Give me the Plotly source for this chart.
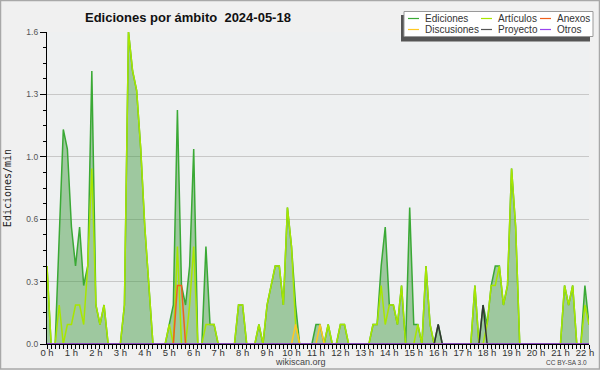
import plotly.graph_objects as go

TITLE = "Ediciones por ámbito  2024-05-18"
STEP_MIN = 10  # one value every 10 minutes (edits per minute)

ediciones = [
    0.4, 0, 0, 0.6, 1.1, 1.0, 0.6, 0.4, 0.6, 0.3,
    0.4, 1.4, 0.2, 0.1, 0.2, 0, 0, 0, 0, 0.2,
    1.6, 1.4, 1.3, 1.0, 0.6, 0.3, 0, 0, 0, 0,
    0.1, 0.2, 1.2, 0.3, 0.2, 0.4, 1.0, 0, 0, 0.5,
    0.1, 0.1, 0, 0, 0, 0, 0, 0.2, 0.2, 0,
    0, 0, 0.1, 0, 0.2, 0.3, 0.4, 0.4, 0.2, 0.7,
    0.5, 0.2, 0, 0, 0, 0, 0.1, 0.1, 0, 0.1,
    0, 0, 0.1, 0.1, 0, 0, 0, 0, 0, 0,
    0.1, 0.1, 0.4, 0.6, 0.2, 0.2, 0.1, 0.3, 0, 0.7,
    0.1, 0.1, 0, 0.4, 0.1, 0, 0.1, 0, 0, 0,
    0, 0, 0, 0, 0, 0.3, 0, 0.2, 0.1, 0.3,
    0.4, 0.4, 0.2, 0.3, 0.9, 0.6, 0, 0, 0, 0,
    0, 0, 0, 0, 0, 0, 0, 0.3, 0.2, 0.3,
    0, 0, 0.3, 0.1,
]

articulos = [
    0.4, 0, 0, 0.2, 0, 0.1, 0.1, 0.2, 0.2, 0.1,
    0.4, 0.9, 0.2, 0.1, 0.2, 0, 0, 0, 0, 0.2,
    1.6, 1.4, 1.3, 1.0, 0.6, 0.3, 0, 0, 0, 0,
    0.1, 0, 0.5, 0, 0, 0.2, 0.5, 0, 0, 0.1,
    0.1, 0.1, 0, 0, 0, 0, 0, 0.2, 0.2, 0,
    0, 0, 0.1, 0, 0.2, 0.3, 0.4, 0.4, 0.2, 0.7,
    0.5, 0.1, 0, 0, 0, 0, 0, 0, 0, 0.1,
    0, 0, 0.1, 0.1, 0, 0, 0, 0, 0, 0,
    0.1, 0.1, 0.3, 0.1, 0.2, 0.2, 0.1, 0.3, 0, 0,
    0, 0.1, 0, 0.4, 0.1, 0, 0, 0, 0, 0,
    0, 0, 0, 0, 0, 0.3, 0, 0, 0.1, 0.3,
    0.3, 0.4, 0.2, 0.3, 0.9, 0.6, 0, 0, 0, 0,
    0, 0, 0, 0, 0, 0, 0, 0.3, 0.2, 0.3,
    0, 0, 0.2, 0.1,
]

anexos = [
    0, 0, 0, 0, 0, 0, 0, 0, 0, 0,
    0, 0, 0, 0, 0, 0, 0, 0, 0, 0,
    0, 0, 0, 0, 0, 0, 0, 0, 0, 0,
    0, 0, 0.3, 0.3, 0, 0, 0, 0, 0, 0,
    0, 0, 0, 0, 0, 0, 0, 0, 0, 0,
    0, 0, 0, 0, 0, 0, 0, 0, 0, 0,
    0, 0, 0, 0, 0, 0, 0, 0, 0, 0,
    0, 0, 0, 0, 0, 0, 0, 0, 0, 0,
    0, 0, 0, 0, 0, 0, 0, 0, 0, 0,
    0, 0, 0, 0, 0, 0, 0, 0, 0, 0,
    0, 0, 0, 0, 0, 0, 0, 0, 0, 0,
    0, 0, 0, 0, 0, 0, 0, 0, 0, 0,
    0, 0, 0, 0, 0, 0, 0, 0, 0, 0,
    0, 0, 0, 0,
]

discusiones = [
    0, 0, 0, 0, 0, 0, 0, 0, 0, 0,
    0, 0, 0, 0, 0, 0, 0, 0, 0, 0,
    0, 0, 0, 0, 0, 0, 0, 0, 0, 0,
    0, 0, 0, 0, 0, 0, 0, 0, 0, 0,
    0, 0, 0, 0, 0, 0, 0, 0, 0, 0,
    0, 0, 0, 0, 0, 0, 0, 0, 0, 0,
    0, 0.1, 0, 0, 0, 0, 0, 0.1, 0, 0,
    0, 0, 0, 0, 0, 0, 0, 0, 0, 0,
    0, 0, 0, 0, 0, 0, 0, 0, 0, 0,
    0, 0, 0, 0, 0, 0, 0, 0, 0, 0,
    0, 0, 0, 0, 0, 0, 0, 0, 0, 0,
    0, 0, 0, 0, 0, 0, 0, 0, 0, 0,
    0, 0, 0, 0, 0, 0, 0, 0, 0, 0,
    0, 0, 0, 0,
]

proyecto = [
    0, 0, 0, 0, 0, 0, 0, 0, 0, 0,
    0, 0, 0, 0, 0, 0, 0, 0, 0, 0,
    0, 0, 0, 0, 0, 0, 0, 0, 0, 0,
    0, 0, 0, 0, 0, 0, 0, 0, 0, 0,
    0, 0, 0, 0, 0, 0, 0, 0, 0, 0,
    0, 0, 0, 0, 0, 0, 0, 0, 0, 0,
    0, 0, 0, 0, 0, 0, 0, 0, 0, 0,
    0, 0, 0, 0, 0, 0, 0, 0, 0, 0,
    0, 0, 0, 0, 0, 0, 0, 0, 0, 0,
    0, 0, 0, 0, 0, 0, 0.1, 0, 0, 0,
    0, 0, 0, 0, 0, 0, 0, 0.2, 0, 0,
    0, 0, 0, 0, 0, 0, 0, 0, 0, 0,
    0, 0, 0, 0, 0, 0, 0, 0, 0, 0,
    0, 0, 0, 0,
]

otros = [
    0, 0, 0, 0, 0, 0, 0, 0, 0, 0,
    0, 0, 0, 0, 0, 0, 0, 0, 0, 0,
    0, 0, 0, 0, 0, 0, 0, 0, 0, 0,
    0, 0, 0, 0, 0, 0, 0, 0, 0, 0,
    0, 0, 0, 0, 0, 0, 0, 0, 0, 0,
    0, 0, 0, 0, 0, 0, 0, 0, 0, 0,
    0, 0, 0, 0, 0, 0, 0, 0, 0, 0,
    0, 0, 0, 0, 0, 0, 0, 0, 0, 0,
    0, 0, 0, 0, 0, 0, 0, 0, 0, 0,
    0, 0, 0, 0, 0, 0, 0, 0, 0, 0,
    0, 0, 0, 0, 0, 0, 0, 0, 0, 0,
    0, 0, 0, 0, 0, 0, 0, 0, 0, 0,
    0, 0, 0, 0, 0, 0, 0, 0, 0, 0,
    0, 0, 0, 0,
]

hour_ticks = list(range(23))
hour_labels = ["0 h", "1 h", "2 h", "3 h", "4 h", "5 h", "6 h", "7 h", "8 h", "9 h",
               "10 h", "11 h", "12 h", "13 h", "14 h", "15 h", "16 h", "17 h", "18 h",
               "19 h", "20 h", "21 h", "22 h"]
y_ticks = [0, 0.32, 0.64, 0.96, 1.28, 1.6]
y_labels = ["0.0", "0.3", "0.6", "1.0", "1.3", "1.6"]

series = [
    ("Artículos", articulos, "#a8e600"),
    ("Anexos", anexos, "#f0601c"),
    ("Discusiones", discusiones, "#ffc823"),
    ("Proyecto", proyecto, "#333333"),
    ("Otros", otros, "#9944ee"),
]
legend_items = [
    ("Ediciones", "#3aa935"), ("Artículos", "#a8e600"), ("Anexos", "#f0601c"),
    ("Discusiones", "#ffc823"), ("Proyecto", "#555555"), ("Otros", "#9944ee"),
]

hours = [i * STEP_MIN / 60 for i in range(len(ediciones))]

W, H = 600, 370
L, R, T, B = 47, 11, 32, 26
PW, PH = W - L - R, H - T - B


def px(xp):
    return (xp - L) / PW


def py(yp):
    return (H - B - yp) / PH


fig = go.Figure()
fig.add_trace(go.Scatter(
    x=hours, y=ediciones, mode="lines", name="Ediciones",
    line=dict(color="#3aa935", width=1.5),
    fill="tozeroy", fillcolor="rgba(60,150,60,0.45)", showlegend=False))
for name, vals, color in series:
    fig.add_trace(go.Scatter(
        x=hours, y=vals, mode="lines", name=name,
        line=dict(color=color, width=1.5), showlegend=False))

shapes = []
annotations = []

# outer frame
shapes.append(dict(type="rect", xref="paper", yref="paper",
                   x0=px(0.5), x1=px(599.5), y0=py(0.5), y1=py(369),
                   line=dict(color="#a8a8a8", width=1.5), fillcolor="rgba(0,0,0,0)", layer="above"))

# legend box (shadow + box)
shapes.append(dict(type="rect", xref="paper", yref="paper",
                   x0=px(401), x1=px(590), y0=py(15), y1=py(41.5),
                   line=dict(width=0), fillcolor="#555555", layer="above"))
shapes.append(dict(type="rect", xref="paper", yref="paper",
                   x0=px(404), x1=px(593), y0=py(11.5), y1=py(36.5),
                   line=dict(color="#999999", width=1), fillcolor="#ffffff", layer="above"))

col_line = [(408, 419), (481, 492), (540, 551)]
col_text = [423, 496, 555]
row_y = [18.5, 29.5]
for i, (label, color) in enumerate(legend_items):
    r, c = divmod(i, 3)
    shapes.append(dict(type="line", xref="paper", yref="paper",
                       x0=px(col_line[c][0]), x1=px(col_line[c][1]),
                       y0=py(row_y[r]), y1=py(row_y[r]),
                       line=dict(color=color, width=1.2), layer="above"))
    annotations.append(dict(text=label, xref="paper", yref="paper",
                            x=px(col_text[c]), y=py(row_y[r]),
                            xanchor="left", yanchor="middle", showarrow=False,
                            font=dict(family="Liberation Sans", size=10, color="#333333")))

annotations.append(dict(text="wikiscan.org", xref="paper", yref="paper",
                        x=px(300.5), y=py(362), xanchor="center", yanchor="middle",
                        showarrow=False,
                        font=dict(family="Liberation Sans", size=9, color="#444444")))
annotations.append(dict(text="CC BY-SA 3.0", xref="paper", yref="paper",
                        x=px(589), y=py(362.5), xanchor="right", yanchor="middle",
                        showarrow=False,
                        font=dict(family="Liberation Sans", size=6.5, color="#444444")))

fig.update_layout(
    width=W, height=H,
    template="none",
    margin=dict(l=L, r=R, t=T, b=B, pad=0, autoexpand=False),
    paper_bgcolor="#f0f0f0",
    plot_bgcolor="#eef0f1",
    title=dict(text="<b>" + TITLE + "</b>", x=85 / W, xref="container", xanchor="left",
               y=1 - 17 / H, yref="container", yanchor="middle",
               font=dict(family="Liberation Sans", size=13, color="#111111")),
    xaxis=dict(range=[0, hours[-1]], tickmode="array", tickvals=hour_ticks, ticktext=hour_labels,
               automargin=False,
               ticks="outside", ticklen=4, tickcolor="#000000", tickwidth=1,
               showline=True, linecolor="#000000", linewidth=1.2,
               showgrid=False, zeroline=False,
               tickfont=dict(family="Liberation Sans", size=9.5, color="#333333"),
               ticklabelstandoff=-5,
               minor=dict(ticks="outside", tickmode="linear", tick0=0, dtick=STEP_MIN / 60,
                          ticklen=4, tickcolor="#000000", tickwidth=1, showgrid=False)),
    yaxis=dict(range=[0, 1.6], tickmode="array", tickvals=y_ticks, ticktext=y_labels,
               automargin=False,
               ticks="outside", ticklen=6, tickcolor="#000000", tickwidth=1,
               showline=True, linecolor="#000000", linewidth=1.2,
               showgrid=True, gridcolor="#c8c8c8", gridwidth=1, zeroline=False,
               tickfont=dict(family="Liberation Sans", size=8.5, color="#555555"),
               title=dict(text="Ediciones/min", standoff=12,
                          font=dict(family="DejaVu Sans Mono", size=10, color="#222222")),
               minor=dict(ticks="outside", tickmode="linear", tick0=0, dtick=0.08,
                          ticklen=3, tickcolor="#000000", tickwidth=1, showgrid=False)),
    shapes=shapes,
    annotations=annotations,
    showlegend=False,
)

fig.write_html("out.html", config={"displayModeBar": False},
               post_script="document.body.style.margin='0';document.body.style.overflow='hidden';")
